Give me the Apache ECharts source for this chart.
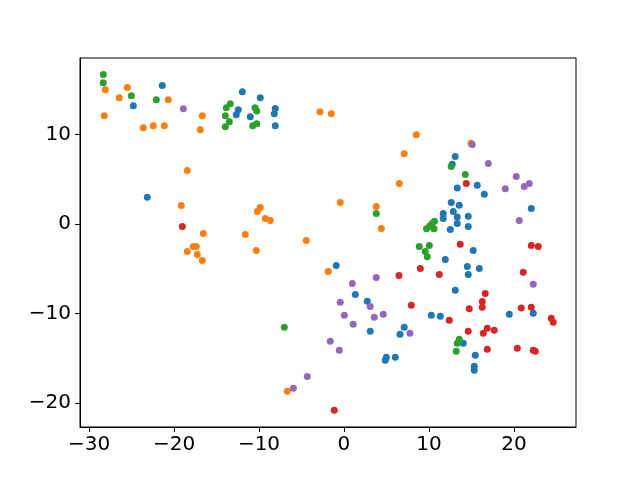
<!DOCTYPE html>
<html>
<head>
<meta charset="utf-8">
<script src="https://cdn.jsdelivr.net/npm/echarts@6/dist/echarts.min.js"></script>
<style>html,body{margin:0;padding:0;background:#fff;}#c{width:640px;height:480px;}</style>
</head>
<body>
<div id="c"></div>
<script>
const xTicks = [-30, -20, -10, 0, 10, 20];
const yTicks = [-20, -10, 0, 10];

const blue = [[-21.38,15.50],[-24.79,13.23],[-11.96,14.79],[-12.44,12.79],[-12.67,12.23],[-11.02,12.01],[-9.85,14.12],[-8.08,12.93],[-8.20,12.34],[-8.08,11.00],[-23.14,3.01],[13.09,7.55],[12.74,6.69],[15.68,4.35],[13.33,4.05],[16.51,3.34],[12.62,2.42],[13.56,2.12],[12.86,1.42],[11.68,1.19],[11.68,0.64],[13.33,0.81],[14.62,0.89],[13.33,0.08],[14.62,-0.26],[12.51,-0.59],[22.04,1.75],[15.21,-2.93],[11.92,-3.94],[14.51,-4.72],[15.92,-4.94],[14.62,-5.61],[13.09,-7.39],[10.27,-10.18],[11.33,-10.29],[19.45,-10.07],[22.27,-9.96],[7.09,-11.52],[6.59,-12.30],[14.04,-13.30],[15.45,-14.64],[15.33,-15.86],[15.33,-16.31],[-0.91,-4.60],[1.33,-7.84],[2.74,-8.62],[3.09,-11.96],[4.98,-14.86],[4.86,-15.20],[6.04,-14.86]];
const orange = [[-28.08,15.02],[-25.49,15.27],[-26.44,14.12],[-20.67,13.90],[-28.20,12.12],[-23.61,10.78],[-22.44,11.00],[-21.14,11.00],[-16.67,12.12],[-16.91,10.56],[-18.44,5.99],[-2.82,12.56],[-1.49,12.34],[7.09,7.88],[6.51,4.54],[8.51,10.00],[14.94,9.03],[-19.14,2.08],[-16.55,-1.04],[-11.61,-1.14],[-17.73,-2.49],[-17.38,-2.49],[-18.44,-3.04],[-17.26,-3.38],[-16.67,-4.05],[-9.85,1.86],[-10.20,1.42],[-9.26,0.64],[-8.67,0.41],[-10.32,-2.93],[-4.44,-1.82],[-0.44,2.42],[3.80,1.97],[4.39,-0.48],[-1.85,-5.27],[-6.67,-18.65]];
const green = [[-28.32,16.72],[-28.32,15.80],[-25.02,14.35],[-22.08,13.90],[-13.38,13.46],[-13.85,13.01],[-13.96,12.12],[-13.49,11.45],[-13.96,10.89],[-10.47,13.01],[-10.27,12.63],[-10.74,11.00],[-10.27,11.23],[3.80,1.19],[12.62,6.43],[14.27,5.54],[9.71,-0.50],[10.06,-0.22],[10.35,0.06],[10.65,0.33],[10.59,-0.50],[8.86,-2.49],[10.04,-2.37],[9.56,-3.04],[9.80,-3.65],[13.56,-12.85],[13.33,-13.30],[13.21,-14.19],[-7.02,-11.52]];
const red = [[-19.02,-0.26],[14.39,4.54],[13.68,-2.23],[22.04,-2.37],[22.86,-2.49],[8.98,-4.94],[11.21,-5.61],[6.47,-5.72],[21.09,-5.38],[16.62,-7.73],[16.27,-8.64],[16.27,-9.28],[14.74,-9.45],[7.92,-9.06],[20.86,-9.36],[22.04,-9.28],[12.39,-10.74],[24.39,-10.51],[24.62,-10.96],[14.62,-11.96],[16.39,-12.19],[16.86,-11.63],[17.68,-11.85],[16.86,-13.97],[20.39,-13.86],[22.27,-14.08],[22.51,-14.19],[-1.14,-20.77]];
const purple = [[-18.91,12.90],[15.09,8.89],[16.98,6.77],[20.27,5.32],[21.80,4.54],[21.21,4.20],[18.98,3.96],[20.62,0.41],[22.27,-6.72],[0.98,-6.61],[3.80,-5.94],[-0.44,-8.73],[3.09,-9.18],[0.04,-10.18],[3.56,-10.40],[4.62,-10.07],[1.09,-11.18],[7.76,-12.19],[-1.61,-13.08],[-0.55,-14.08],[-4.32,-17.02],[-5.96,-18.32]];

const seriesData = [blue, orange, green, red, purple];
const colors = ['#1f77b4', '#ff7f0e', '#2ca02c', '#d62728', '#9467bd'];

const fmt = v => (v < 0 ? '\u2212' + Math.abs(v) : String(v));

const chart = echarts.init(document.getElementById('c'), null, {renderer: 'canvas'});
chart.setOption({
  animation: false,
  backgroundColor: '#fff',
  grid: {left: 80, right: 64, top: 58, bottom: 53, show: true, borderColor: '#000', borderWidth: 1, backgroundColor: 'transparent'},
  xAxis: {
    type: 'value', min: -31.06, max: 27.3,
    splitLine: {show: false},
    axisLine: {show: true, onZero: false, lineStyle: {color: '#000', width: 1}},
    axisTick: {show: true, inside: false, length: 5, lineStyle: {color: '#000', width: 1}, customValues: xTicks},
    axisLabel: {show: true, customValues: xTicks, formatter: fmt, fontSize: 20, color: '#000', fontFamily: 'DejaVu Sans', margin: 8, showMinLabel: true, showMaxLabel: true}
  },
  yAxis: {
    type: 'value', min: -22.65, max: 18.56,
    splitLine: {show: false},
    axisLine: {show: true, onZero: false, lineStyle: {color: '#000', width: 1}},
    axisTick: {show: true, inside: false, length: 5, lineStyle: {color: '#000', width: 1}, customValues: yTicks},
    axisLabel: {show: true, customValues: yTicks, formatter: fmt, fontSize: 20, color: '#000', fontFamily: 'DejaVu Sans', margin: 9, padding: [3, 0, 0, 0]}
  },
  series: seriesData.map((d, i) => ({
    type: 'scatter',
    data: d,
    symbol: 'circle',
    symbolSize: 7,
    itemStyle: {color: colors[i], opacity: 1},
    emphasis: {disabled: true}
  }))
});
</script>
</body>
</html>
